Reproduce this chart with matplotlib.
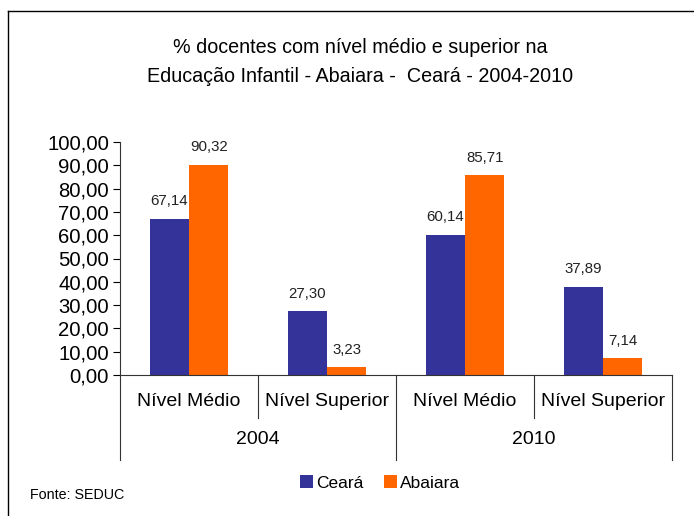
import matplotlib.pyplot as plt
from matplotlib.lines import Line2D
from matplotlib.patches import Patch

plt.rcParams['font.family'] = ['Liberation Sans', 'DejaVu Sans']

years = ["2004", "2010"]
levels = ["Nível Médio", "Nível Superior"]
series = ["Ceará", "Abaiara"]
ceara = [67.14, 27.30, 60.14, 37.89]
abaiara = [90.32, 3.23, 85.71, 7.14]
colors = ["#333399", "#FF6600"]
yticks = [0, 10, 20, 30, 40, 50, 60, 70, 80, 90, 100]

W, H = 694, 516
fig = plt.figure(figsize=(W / 100, H / 100), dpi=100)


def fx(px):
    return px / W


def fy(py):
    return 1 - py / H


# outer frame (only left and top visible)
fig.add_artist(Line2D([fx(8), fx(8)], [fy(11), fy(520)], color="black", lw=1.0, transform=fig.transFigure))
fig.add_artist(Line2D([fx(8), fx(700)], [fy(11), fy(11)], color="black", lw=1.0, transform=fig.transFigure))

left, right, top, bottom = 120, 672, 142, 375
ax = fig.add_axes([fx(left), fy(bottom), fx(right - left), (bottom - top) / H])

n = len(ceara)
bw = 1 / 3.5
xs = list(range(n))
vals = [ceara, abaiara]
for i, (name, v, c) in enumerate(zip(series, vals, colors)):
    pos = [x + (i - 0.5) * bw for x in xs]
    bars = ax.bar(pos, v, width=bw, color=c, label=name, zorder=2)
    for b, val in zip(bars, v):
        ax.annotate(f"{val:.2f}".replace(".", ","), (b.get_x() + bw / 2, val),
                    xytext=(0, 7.5), textcoords="offset points", ha="center", va="bottom",
                    fontsize=10.8, color="#222222")

ax.set_xlim(-0.5, n - 0.5)
ax.set_ylim(0, 100)
ax.set_yticks(yticks)
ax.set_yticklabels([f"{t:.2f}".replace(".", ",") for t in yticks], fontsize=14.6)
ax.tick_params(axis="y", direction="out", length=5, width=0.8, pad=3)
ax.set_xticks([])
for s in ("top", "right"):
    ax.spines[s].set_visible(False)
for s in ("left", "bottom"):
    ax.spines[s].set_color("#333333")
    ax.spines[s].set_linewidth(0.8)

# category labels and separators below the axis
trans = ax.get_xaxis_transform()
span = bottom - top
for k, x in enumerate(xs):
    ax.text(x, (bottom - 401) / span, levels[k % 2], transform=trans,
            ha="center", va="center", fontsize=14)
for g, yr in enumerate(years):
    ax.text(2 * g + 0.5, (bottom - 440) / span, yr, transform=trans,
            ha="center", va="center", fontsize=14)
inner_y = (bottom - 418) / span
outer_y = (bottom - 460) / span
for xb in [-0.5, 1.5, 3.5]:
    ax.add_artist(Line2D([xb, xb], [0, outer_y], transform=trans, color="#333333", lw=0.8, clip_on=False))
for xb in [0.5, 2.5]:
    ax.add_artist(Line2D([xb, xb], [0, inner_y], transform=trans, color="#333333", lw=0.8, clip_on=False))

fig.text(fx(360), fy(48), "% docentes com nível médio e superior na", ha="center", va="center", fontsize=14.2)
fig.text(fx(360), fy(76), "Educação Infantil - Abaiara -  Ceará - 2004-2010", ha="center", va="center", fontsize=14.2)

handles = [Patch(facecolor=c, edgecolor="none") for c in colors]
fig.legend(handles, series, loc="center", bbox_to_anchor=(fx(380), fy(483)), ncol=2, frameon=False,
           fontsize=12.5, handlelength=0.75, handleheight=0.75, handletextpad=0.15, columnspacing=1.2)

fig.text(fx(30), fy(495), "Fonte: SEDUC", ha="left", va="center", fontsize=10.3)

fig.savefig("out.png", dpi=100)
